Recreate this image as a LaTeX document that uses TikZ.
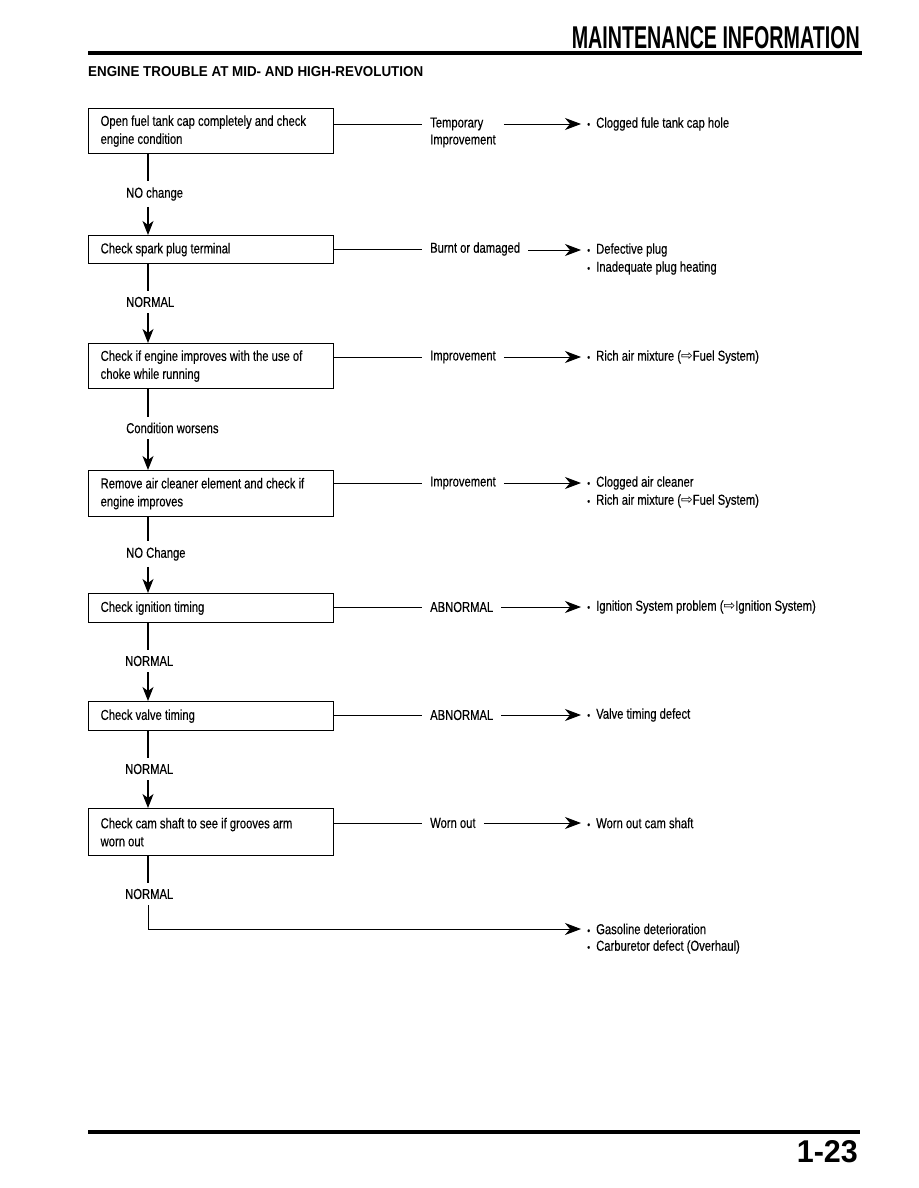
\documentclass[tikz,border=0pt]{standalone}
\usepackage{fontspec}
\setmainfont{Liberation Sans}[FakeStretch=0.78, FakeBold=0.3]
\newfontfamily\headfont{Liberation Sans}
\newfontfamily\symfont{DejaVu Sans}
\usetikzlibrary{arrows.meta,positioning,calc}
\newcommand{\flowfont}{\fontsize{14.4}{18}\selectfont}
\newcommand{\itm}{\makebox[15pt][c]{\scalebox{0.7}{\textbullet}}}
\newcommand{\see}{{\symfont\fontsize{14}{18}\selectfont ⇨}}
\tikzset{
  >={Stealth[length=16pt, width=12pt, inset=5pt]},
  box/.style = {draw, line width=1.3pt, anchor=north west, align=flush left, text width=221pt, inner xsep=12pt, inner ysep=0pt, font=\flowfont},
  cond/.style = {anchor=west, inner xsep=0pt, inner ysep=6pt, font=\flowfont},
  lab/.style = {anchor=west, inner xsep=8pt, inner ysep=0pt, font=\flowfont},
  res/.style = {anchor=west, inner sep=0pt, font=\flowfont},
  link/.style = {line width=0.9pt},
  stemline/.style = {line width=1.1pt, -{Stealth[length=14pt, width=11pt, inset=4pt]}},
  stemplain/.style = {line width=1.1pt},
  rule/.style = {line width=3.6pt},
}

\begin{document}
\begin{tikzpicture}[x=1pt, y=-1pt]
  % page frame
  \useasboundingbox (0,0) rectangle (918,1188);

  \def\stemX{148}
  \def\labX{422}
  \def\resX{581}
  \coordinate (stem) at (\stemX,0);

  % ----------------------------------------------------------------------
  % Header and footer
  % ----------------------------------------------------------------------
  \node[anchor=south east, inner sep=0pt] (head) at (860,49) {\resizebox{288pt}{22pt}{\headfont\bfseries MAINTENANCE INFORMATION}};
  \draw[rule] (88,53) -- (862,53);
  \node[anchor=south west, inner sep=0pt] (title) at (88,77) {\resizebox{335pt}{10pt}{\headfont\bfseries ENGINE TROUBLE AT MID- AND HIGH-REVOLUTION}};

  \draw[rule] (88,1132) -- (860,1132);
  \node[anchor=south east, inner sep=0pt] (page) at (858,1163) {\resizebox{61pt}{22pt}{\headfont\bfseries 1-23}};

  % ----------------------------------------------------------------------
  % Check boxes
  % ----------------------------------------------------------------------
  \node[box, minimum height=45pt] (box1) at (88,108) {Open fuel tank cap completely and check\\engine condition};
  \node[box, minimum height=28pt] (box2) at (88,235) {Check spark plug terminal};
  \node[box, minimum height=45pt] (box3) at (88,343) {Check if engine improves with the use of\\choke while running};
  \node[box, minimum height=46pt] (box4) at (88,470) {Remove air cleaner element and check if\\engine improves};
  \node[box, minimum height=29pt] (box5) at (88,593) {Check ignition timing};
  \node[box, minimum height=29pt] (box6) at (88,701) {Check valve timing};
  \node[box, minimum height=47pt] (box7) at (88,808) {Check cam shaft to see if grooves arm\\worn out};

  % conditions on the stem
  \node[cond] (cond1) at (126,194) {NO change};
  \node[cond] (cond2) at (126,302) {NORMAL};
  \node[cond] (cond3) at (126,428) {Condition worsens};
  \node[cond] (cond4) at (126,554) {NO Change};
  \node[cond] (cond5) at (125,661) {NORMAL};
  \node[cond] (cond6) at (125,769) {NORMAL};
  \node[cond] (cond7) at (125,894) {NORMAL};

  % ----------------------------------------------------------------------
  % Results
  % ----------------------------------------------------------------------
  \node[lab] (lab1) at (\labX,124) {Temporary};
  \node[lab] (lab1b) at (\labX,141) {Improvement};
  \node[res] (res1a) at (\resX,124) {\itm Clogged fule tank cap hole};

  \node[lab] (lab2) at (\labX,249) {Burnt or damaged};
  \node[res] (res2a) at (\resX,250) {\itm Defective plug};
  \node[res] (res2b) at (\resX,268) {\itm Inadequate plug heating};

  \node[lab] (lab3) at (\labX,357) {Improvement};
  \node[res] (res3a) at (\resX,357) {\itm Rich air mixture (\see Fuel System)};

  \node[lab] (lab4) at (\labX,483) {Improvement};
  \node[res] (res4a) at (\resX,483) {\itm Clogged air cleaner};
  \node[res] (res4b) at (\resX,501) {\itm Rich air mixture (\see Fuel System)};

  \node[lab] (lab5) at (\labX,607) {ABNORMAL};
  \node[res] (res5a) at (\resX,607) {\itm Ignition System problem (\see Ignition System)};

  \node[lab] (lab6) at (\labX,715) {ABNORMAL};
  \node[res] (res6a) at (\resX,715) {\itm Valve timing defect};

  \node[lab] (lab7) at (\labX,823) {Worn out};
  \node[res] (res7a) at (\resX,823) {\itm Worn out cam shaft};

  \node[res] (res8a) at (\resX,929) {\itm Gasoline deterioration};
  \node[res] (res8b) at (\resX,947) {\itm Carburetor defect (Overhaul)};

  % box -> label -> result
  \draw[link] (box1.east |- lab1.west) -- (lab1.west);
  \draw[link, ->] (lab1b.east |- res1a.west) -- (res1a.west);
  \foreach \x in {2,...,7} {
    \draw[link] (box\x.east |- lab\x.west) -- (lab\x.west);
    \draw[link, ->] (lab\x.east |- res\x a.west) -- (res\x a.west);
  }

  % ----------------------------------------------------------------------
  % Stem
  % ----------------------------------------------------------------------
  \foreach \a/\b in {1/2,2/3,3/4,4/5,5/6,6/7} {
    \draw[stemplain] (stem |- box\a.south) -- (stem |- cond\a.north);
    \draw[stemline] (stem |- cond\a.south) -- (stem |- box\b.north);
  }
  \draw[stemplain] (stem |- box7.south) -- (stem |- cond7.north);
  \draw[link, ->] (stem |- cond7.south) |- (res8a.west);

\end{tikzpicture}
\end{document}
